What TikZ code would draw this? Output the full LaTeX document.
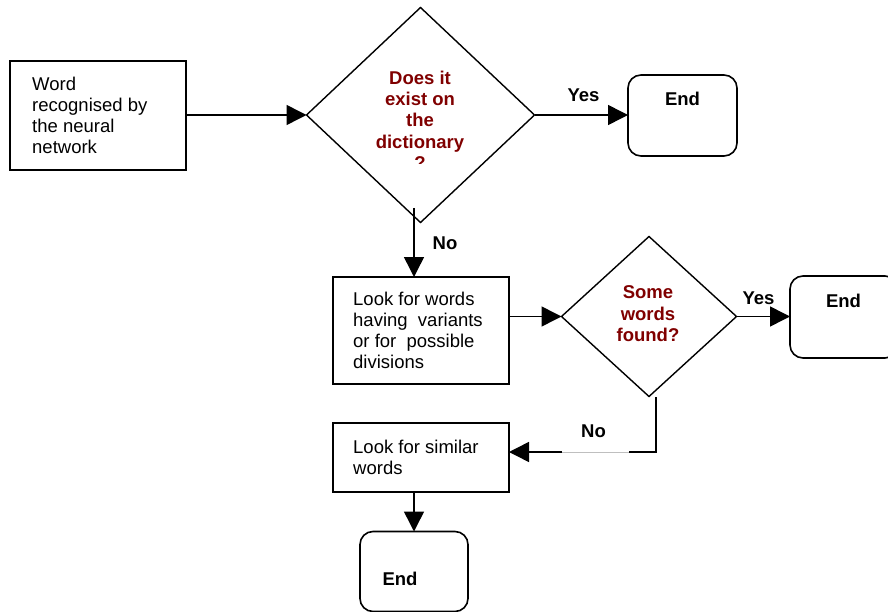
\documentclass[tikz,border=0pt]{standalone}
\usepackage{fontspec}
\setmainfont{Liberation Sans}
\usetikzlibrary{shapes.geometric,arrows.meta}
\definecolor{qred}{RGB}{128,0,0}
\tikzset{
  boxshape/.style={draw,line width=1.6pt,rectangle,inner sep=0pt,outer sep=0pt},
  endshape/.style={draw,line width=1.6pt,rectangle,rounded corners=13pt,inner sep=0pt,outer sep=0pt},
  decshape/.style={draw,line width=1.4pt,diamond,inner sep=0pt,outer sep=0pt},
  boxtext/.style={inner sep=0pt,align=left,anchor=north west,font=\fontsize{18.5}{21}\selectfont},
  dectext/.style={inner sep=0pt,align=center,anchor=north,text=qred,font=\bfseries\fontsize{18.5}{21.3}\selectfont},
  lbl/.style={inner sep=0pt,anchor=base,font=\bfseries\fontsize{18.5}{21}\selectfont},
  conn/.style={line width=1.5pt,-{Triangle[length=20pt,width=20pt]}},
}
\begin{document}
\begin{tikzpicture}[x=1pt,y=-1pt]
\useasboundingbox (0,0) rectangle (888,612);
% shapes
\node[boxshape,minimum width=176pt,minimum height=109pt] (b1) at (98,115.5) {};
\node[boxtext] (t1) at (32,76.7) {Word\\recognised by\\the neural\\network};
\node[decshape,minimum width=228pt,minimum height=215pt] (d1) at (420.5,115) {};
\begin{scope}
\clip (300,0) rectangle (540,164);
\node[dectext] (td1) at (420,70.7) {Does it\\exist on\\the\\dictionary\\?};
\end{scope}
\node[endshape,minimum width=109pt,minimum height=81pt] (e1) at (682.5,115.5) {};
\node[lbl] (te1) at (682.5,106) {End};

\node[boxshape,minimum width=176pt,minimum height=107pt] (b2) at (421,330.5) {};
\node[boxtext] (t2) at (353,291.5) {Look for words\\having\ \ variants\\or for\ \ possible\\divisions};
\node[decshape,minimum width=175pt,minimum height=160pt] (d2) at (649,316.5) {};
\node[dectext] (td2) at (648,285.7) {Some\\words\\found?};
\node[endshape,minimum width=108pt,minimum height=82pt] (e2) at (844,317) {};
\node[lbl] (te2) at (843.5,307) {End};

\node[boxshape,minimum width=176pt,minimum height=69pt] (b3) at (421,457.5) {};
\node[boxtext] (t3) at (353,439.5) {Look for similar\\words};
\node[endshape,minimum width=108pt,minimum height=80pt] (e3) at (414,571.5) {};
\node[lbl] (te3) at (400,585) {End};

% labels
\node[lbl] (yes1) at (583.5,102) {Yes};
\node[lbl] (yes2) at (758.5,304) {Yes};
\node[lbl] (no1) at (445,250) {No};
\node[lbl] (no2) at (593.5,437) {No};

% connectors
\draw[conn] (b1.east |- d1.west) -- (d1.west);
\draw[conn] (d1.east) -- (e1.west |- d1.east);
\coordinate (c1) at (414,208);
\draw[conn] (c1) -- (c1 |- b2.north);
\draw[conn] (b2.east |- d2.west) -- (d2.west);
\draw[conn] (d2.east) -- (e2.west |- d2.east);
\coordinate (c2) at (656,397);
\coordinate (c3) at (656,452);
\draw[conn] (c2) -- (c3) -- (c3 -| b3.east);
\draw[white,line width=2.2pt] (562,452) -- (629,452);
\draw[black!25,line width=0.8pt] (562,452) -- (629,452);
\draw[conn] (e3.north |- b3.south) -- (e3.north);
\end{tikzpicture}
\end{document}
